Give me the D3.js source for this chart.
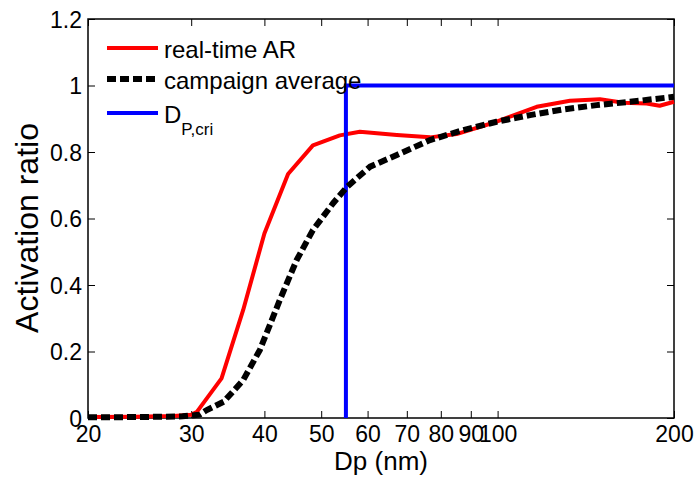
<!DOCTYPE html>
<html>
<head>
<meta charset="utf-8">
<script src="https://cdn.jsdelivr.net/npm/d3@7"></script>
<style>
  body { margin: 0; background: #fff; }
  svg text { font-family: "Liberation Sans", Arial, sans-serif; fill: #000; }
</style>
</head>
<body>
<div id="chart"></div>
<script>
// Data
const dpRealTime = [20, 24, 28, 30, 30.7, 33.8, 36.8, 40, 43.9, 48.4, 53.8, 58.2, 67.3, 76.7, 85.1, 99.6, 116.6, 132.9, 149.5, 163.9, 179.6, 189, 200];
const arRealTime = [0.003, 0.004, 0.006, 0.01, 0.019, 0.119, 0.325, 0.555, 0.734, 0.82, 0.85, 0.861, 0.851, 0.844, 0.854, 0.891, 0.936, 0.954, 0.959, 0.948, 0.946, 0.939, 0.951];

const dpCampaign = [20, 25, 29, 31, 31.9, 34.1, 36.8, 39.3, 42.5, 45.4, 48.4, 52.4, 55.4, 60.6, 67.3, 76.7, 87.4, 99.6, 113.6, 129.4, 147.6, 168.3, 200];
const arCampaign = [0.002, 0.003, 0.005, 0.01, 0.024, 0.049, 0.114, 0.205, 0.355, 0.475, 0.565, 0.646, 0.696, 0.756, 0.791, 0.836, 0.866, 0.891, 0.911, 0.928, 0.941, 0.951, 0.966];

const dpCritical = 55.1;
const arCriticalTop = 1;

const xTicks = [20, 30, 40, 50, 60, 70, 80, 90, 100, 200];
const yTicks = [0, 0.2, 0.4, 0.6, 0.8, 1, 1.2];

const width = 696, height = 485;
const margin = { top: 19, right: 22, bottom: 67, left: 88 };
const plotW = width - margin.left - margin.right;
const plotH = height - margin.top - margin.bottom;

const svg = d3.select("#chart").append("svg")
    .attr("width", width)
    .attr("height", height);

const g = svg.append("g")
    .attr("transform", `translate(${margin.left},${margin.top})`);

const x = d3.scaleLog().domain([20, 200]).range([0, plotW]);
const y = d3.scaleLinear().domain([0, 1.2]).range([plotH, 0]);

// axes with inward ticks, mirrored on top/right
const xAxis = d3.axisBottom(x).tickValues(xTicks).tickFormat(d3.format("d")).tickSizeInner(-7).tickSizeOuter(0).tickPadding(8);
const yAxis = d3.axisLeft(y).tickValues(yTicks).tickFormat(d => d3.format("")(d)).tickSizeInner(-7).tickSizeOuter(0).tickPadding(6);

const gx = g.append("g").attr("transform", `translate(0,${plotH})`).call(xAxis);
const gy = g.append("g").call(yAxis);
g.append("g").call(d3.axisTop(x).tickValues(xTicks).tickFormat("").tickSizeInner(-7).tickSizeOuter(0));
g.append("g").attr("transform", `translate(${plotW},0)`)
    .call(d3.axisRight(y).tickValues(yTicks).tickFormat("").tickSizeInner(-7).tickSizeOuter(0));

g.selectAll(".domain").remove();
g.selectAll(".tick line").attr("stroke", "#000").attr("stroke-width", 1);
[gx, gy].forEach(a => a.selectAll("text").style("font-size", "23px"));
gy.selectAll("text").attr("dy", "0.35em");

g.append("rect")
    .attr("width", plotW).attr("height", plotH)
    .attr("fill", "none").attr("stroke", "#000").attr("stroke-width", 1.5);

// axis titles
svg.append("text")
    .attr("x", 381).attr("y", 470)
    .attr("text-anchor", "middle").style("font-size", "26px")
    .text("Dp (nm)");
svg.append("text")
    .attr("transform", `translate(38,228) rotate(-90)`)
    .attr("text-anchor", "middle").style("font-size", "32px")
    .text("Activation ratio");

// curves
const line = d3.line().x(d => x(d[0])).y(d => y(d[1]));

g.append("path")
    .datum(d3.zip(dpRealTime, arRealTime))
    .attr("d", line)
    .attr("fill", "none").attr("stroke", "#ff0000").attr("stroke-width", 4)
    .attr("stroke-linejoin", "round");

g.append("path")
    .datum([[dpCritical, 0], [dpCritical, arCriticalTop], [200, arCriticalTop]])
    .attr("d", line)
    .attr("fill", "none").attr("stroke", "#0000ff").attr("stroke-width", 4);

g.append("path")
    .datum(d3.zip(dpCampaign, arCampaign))
    .attr("d", line)
    .attr("fill", "none").attr("stroke", "#000").attr("stroke-width", 6)
    .attr("stroke-dasharray", "9,4");

// legend
const legend = svg.append("g");
const legendItems = [
    { color: "#ff0000", width: 4, dash: null, label: "real-time AR", yLine: 48 },
    { color: "#000", width: 6, dash: "9,4", label: "campaign average", yLine: 79 },
    { color: "#0000ff", width: 4, dash: null, label: "D", yLine: 113 }
];
legendItems.forEach((item, i) => {
    legend.append("line")
        .attr("x1", 107).attr("x2", 158).attr("y1", item.yLine).attr("y2", item.yLine)
        .attr("stroke", item.color).attr("stroke-width", item.width)
        .attr("stroke-dasharray", item.dash);
    const t = legend.append("text")
        .attr("x", 164).attr("y", item.yLine + 10)
        .style("font-size", "24px")
        .text(item.label);
    if (i === 2) {
        t.append("tspan").attr("dy", "12").style("font-size", "17px").text("P,cri");
    }
});
</script>
</body>
</html>
